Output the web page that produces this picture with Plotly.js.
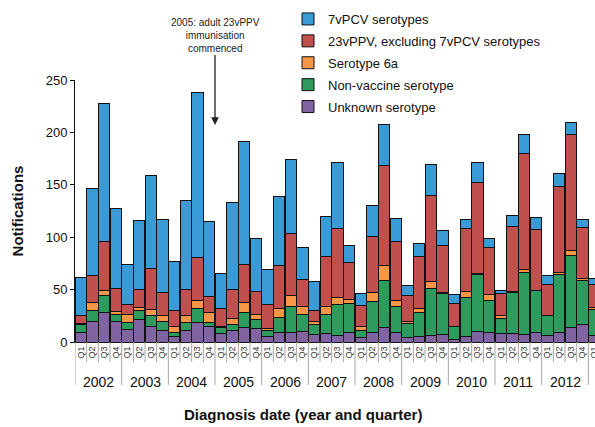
<!DOCTYPE html>
<html>
<head>
<meta charset="utf-8">
<script src="https://cdn.plot.ly/plotly-3.0.1.min.js"></script>
<style>html,body{margin:0;padding:0;background:#fff;}#chart{width:595px;height:427px;}</style>
</head>
<body>
<div id="chart"></div>
<script>
// ---- data (2002 Q1 .. 2013 Q1) ----
const years = ["2002","2003","2004","2005","2006","2007","2008","2009","2010","2011","2012","2013"];
const quarters = ["Q1","Q2","Q3","Q4"];
const unknownSerotype = [9,20,28,20, 12,21,15,11, 5,11,19,15, 8,11,14,13, 5,9,9,10, 7,8,6,9, 4,9,14,9, 4,5,6,7, 2,5,10,9, 8,8,7,9, 6,9,14,17, 6];
const nonVaccine      = [8,10,16,6, 7,9,10,9, 4,8,13,4, 6,6,14,8, 6,14,25,16, 10,18,30,28, 7,30,45,25, 14,23,45,39, 13,37,54,31, 14,39,59,40, 19,55,69,42, 25];
const serotype6a      = [1,8,5,3, 7,3,6,5, 6,6,8,9, 1,5,10,5, 2,9,10,8, 3,8,6,4, 4,8,14,6, 2,4,7,1, 0,6,1,5, 3,1,3,0, 0,2,4,2, 2];
const ppv23Excl       = [7,25,47,22, 10,17,39,22, 15,25,41,15, 17,28,36,22, 23,41,60,26, 10,48,66,35, 20,54,95,56, 24,50,82,45, 22,60,87,45, 21,62,111,58, 30,82,111,48, 22];
const pcv7            = [37,83,132,76, 38,66,89,70, 47,85,157,72, 33,83,117,51, 33,66,70,30, 28,38,63,16, 11,29,40,22, 10,12,29,14, 8,9,19,9, 3,11,18,12, 8,13,11,8, 6];
const seriesNames = ["Unknown serotype","Non-vaccine serotype","Serotype 6a","23vPPV, excluding 7vPCV serotypes","7vPCV serotypes"];
const seriesColors = ["#8064A2","#2F9A5E","#F79646","#C0504D","#3A9AD6"];
const yTicks = [0,50,100,150,200,250];

// ---- build ----
const nBars = unknownSerotype.length;
const cats = [], qText = [];
for (let i = 0; i < nBars; i++) {
  const y = years[Math.floor(i/4)], q = quarters[i%4];
  cats.push(y + " " + q); qText.push(q);
}
const seriesVals = [unknownSerotype, nonVaccine, serotype6a, ppv23Excl, pcv7];
const traces = seriesVals.map((v, k) => ({
  type: "bar", x: cats, y: v, name: seriesNames[k], legendgroup: "g"+k,
  legendrank: (seriesVals.length - k) * 10,
  marker: {color: seriesColors[k], line: {color: "#111", width: 1}},
  hoverinfo: "x+y+name"
}));

const FONT = "Arial, 'Liberation Sans', sans-serif";
const plotTop = 80, plotBottom = 342, plotH = plotBottom - plotTop;
const shapes = [];
for (let i = 0; i <= nBars; i++) {
  const isYear = (i % 4 === 0);
  shapes.push({type:"line", xref:"x", yref:"paper", x0:i-0.5, x1:i-0.5, y0:0,
    y1: isYear ? -(385-plotBottom)/plotH : -(362-plotBottom)/plotH,
    line:{color:"#a6a6a6", width:1}, layer:"above"});
}
const annotations = [];
for (let g = 0; g < years.length; g++) {
  if (g*4 + 3 >= nBars) continue; // incomplete year (cut off at edge)
  annotations.push({xref:"x", yref:"paper", x: g*4 + 1.5, y: -(382-plotBottom)/plotH,
    text: years[g], showarrow:false, font:{family:FONT, size:14, color:"#111"}, yanchor:"middle"});
}
annotations.push({xref:"x", yref:"y", x: 11.5, y: 207, ax: 0, ay: -90,
  text:"2005: adult 23vPPV<br>immunisation<br>commenced", showarrow:true,
  arrowhead:2, arrowsize:1.2, arrowwidth:1.3, arrowcolor:"#222", standoff:0,
  font:{family:FONT, size:10, color:"#222"}, align:"center"});
annotations.push({xref:"paper", yref:"paper", x:(303-75)/520, y:-(414-plotBottom)/plotH,
  text:"<b>Diagnosis date (year and quarter)</b>", showarrow:false, yanchor:"middle",
  font:{family:FONT, size:15, color:"#111"}});

const layout = {
  width:595, height:427,
  margin:{l:75, r:0, t:80, b:85, pad:0},
  paper_bgcolor:"#fff", plot_bgcolor:"#fff",
  barmode:"stack", bargap:0.04,
  font:{family:FONT, color:"#111"},
  showlegend:true,
  legend:{x:(288-75)/520, xanchor:"left", y:1+(80-4)/plotH, yanchor:"top",
    traceorder:"grouped", tracegroupgap:2, font:{family:FONT, size:13, color:"#111"},
    bgcolor:"rgba(0,0,0,0)"},
  xaxis:{type:"category", range:[-0.5, 44.07], tickvals:cats, ticktext:qText, tickangle:-90,
    ticks:"", tickfont:{family:FONT, size:9, color:"#333"}, showline:true, linecolor:"#111", linewidth:1,
    showgrid:false, zeroline:false, fixedrange:true},
  yaxis:{range:[0,250], tickvals:yTicks, ticks:"outside", ticklen:4, tickcolor:"#111",
    showline:true, linecolor:"#111", linewidth:1, showgrid:false, zeroline:false,
    tickfont:{family:FONT, size:13, color:"#111"},
    title:{text:"<b>Notifications</b>", font:{family:FONT, size:15, color:"#111"}, standoff:18}},
  shapes:shapes, annotations:annotations
};
Plotly.newPlot("chart", traces, layout, {displayModeBar:false, staticPlot:true});
</script>
</body>
</html>
